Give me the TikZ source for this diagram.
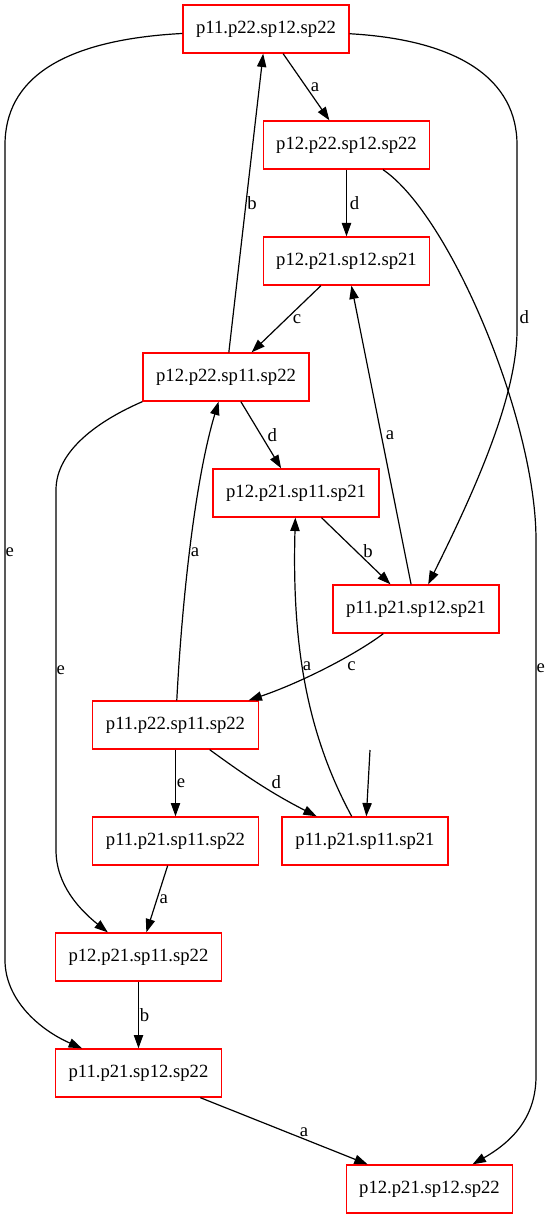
\documentclass[tikz,border=0pt]{standalone}
\usepackage{fontspec}
\setmainfont{Liberation Serif}
\usetikzlibrary{arrows.meta}

\tikzset{
	sbox/.style={shape=rectangle,draw=red,line width=1pt,minimum width=124.5pt,minimum height=36pt,inner sep=0pt,font=\fontsize{14}{16}\selectfont},
	lbl/.style={inner sep=1pt,font=\fontsize{14}{16}\selectfont},
	>={Triangle[length=10pt,width=7pt]}
}

\begin{document}
\begin{tikzpicture}[x=0.75pt,y=-0.75pt,line width=0.9pt]
	\useasboundingbox (0,0) rectangle (551,1219);

	\node[sbox] (n1)  at (266, 29)     {p11.p22.sp12.sp22};
	\node[sbox] (n2)  at (346.5, 145)  {p12.p22.sp12.sp22};
	\node[sbox] (n3)  at (346.5, 261)  {p12.p21.sp12.sp21};
	\node[sbox] (n4)  at (226, 377)    {p12.p22.sp11.sp22};
	\node[sbox] (n5)  at (296, 493)    {p12.p21.sp11.sp21};
	\node[sbox] (n6)  at (416, 609)    {p11.p21.sp12.sp21};
	\node[sbox] (n7)  at (175.5, 725)  {p11.p22.sp11.sp22};
	\node[sbox] (n8)  at (175.5, 841)  {p11.p21.sp11.sp22};
	\node[sbox] (n9)  at (365, 841)    {p11.p21.sp11.sp21};
	\node[sbox] (n10) at (138.5, 957)  {p12.p21.sp11.sp22};
	\node[sbox] (n11) at (138.5, 1073) {p11.p21.sp12.sp22};
	\node[sbox] (n12) at (429.5, 1189) {p12.p21.sp12.sp22};
	\coordinate (s0) at (370, 750);

	\path[->] (n1) edge node[lbl,right,inner sep=3pt]{a} (n2);
	\path[->] (n2) edge node[lbl,right,inner sep=2pt]{d} (n3);
	\path[->] (n3) edge node[lbl,right,inner sep=4.5pt]{c} (n4);
	\path[->] (n4) edge node[lbl,right,inner sep=0.5pt]{b} (n1);
	\path[->] (n4) edge node[lbl,right,inner sep=4.5pt]{d} (n5);
	\path[->] (n5) edge node[lbl,right,inner sep=5pt]{b} (n6);
	\path[->] (n6) edge node[lbl,right,inner sep=3pt]{a} (n3);
	\path[->] (n7) edge node[lbl,right,inner sep=0.5pt]{e} (n8);
	\path[->] (n8) edge node[lbl,right,inner sep=1.5pt]{a} (n10);
	\path[->] (n10) edge node[lbl,right,inner sep=0.5pt]{b} (n11);
	\path[->] (n11) edge node[lbl,above,pos=0.62]{a} (n12);
	\path[->] (s0) edge (n9);

	\draw[->] (n1) .. controls (60,40) and (5,80) .. (5,145) -- node[lbl,right,inner sep=0pt]{e} (5,960) .. controls (5,1000) and (40,1030) .. (n11);
	\draw[->] (n1) .. controls (460,40) and (517,80) .. (517,145) -- node[lbl,right,pos=0.93,inner sep=1.5pt]{d} (517,330) .. controls (517,400) and (470,500) .. (n6);
	\draw[->] (n2) .. controls (450,215) and (536,420) .. (536,540) -- node[lbl,right,pos=0.24,inner sep=0pt]{e} (536,1076) .. controls (536,1115) and (515,1140) .. (n12);
	\draw[->] (n4.south west) .. controls (100,420) and (56,450) .. (56,490) -- node[lbl,right,inner sep=0pt]{e} (56,850) .. controls (56,885) and (80,910) .. (n10);
	\draw[->] (n6) .. controls (355,655) and (300,683) .. node[lbl,below,pos=0.3,inner sep=5pt]{c} (n7);
	\draw[->] (n7) .. controls (182,600) and (195,480) .. node[lbl,right,pos=0.47,inner sep=0.5pt]{a} (n4);
	\draw[->] (n9) .. controls (305,730) and (292,640) .. node[lbl,right,pos=0.55,inner sep=0pt]{a} (n5);
	\draw[->] (n7) .. controls (235,768) and (265,790) .. node[lbl,above right,pos=0.65]{d} (n9);
\end{tikzpicture}
\end{document}
